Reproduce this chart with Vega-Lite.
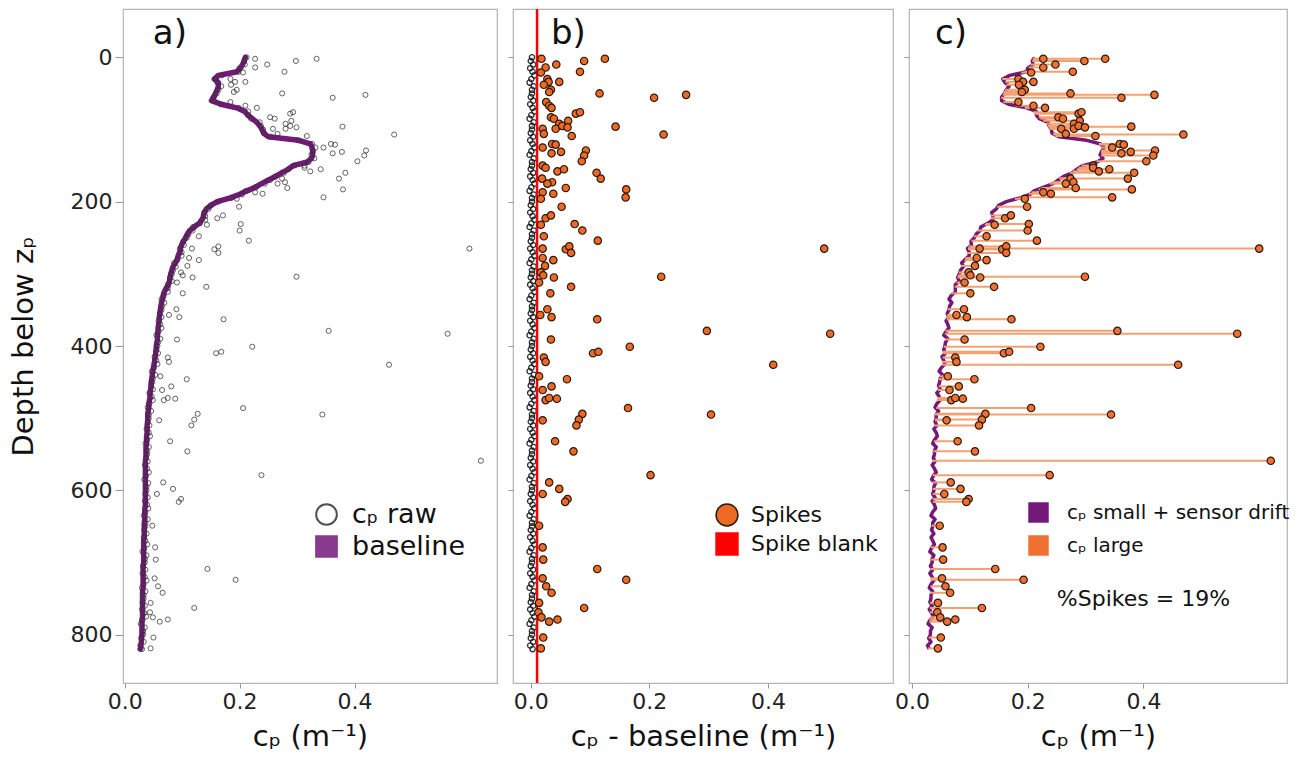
{
  "$schema": "https://vega.github.io/schema/vega-lite/v6.json",
  "padding": {"left": 8, "top": 7, "right": 10, "bottom": 2},
  "background": "white",
  "bounds": "flush",
  "config": {
    "view": {"stroke": "#b4b4b4", "strokeWidth": 1.2},
    "axis": {"grid": false, "domain": false, "tickColor": "#999", "tickWidth": 1, "labelFont": "DejaVu Sans", "labelFontSize": 22, "labelColor": "#222", "titleFont": "DejaVu Sans", "titleFontSize": 29, "titleFontWeight": "normal", "titleColor": "#111"},
    "legend": {"labelFont": "DejaVu Sans", "labelColor": "#111", "labelLimit": 300, "padding": 0}
  },
  "datasets": {
    "p": [
      {"z":0,"b":0.21,"d":0.002,"c":0.212},{"z":5,"b":0.208,"d":0,"c":0.208},{"z":10,"b":0.205,"d":0.004,"c":0.209},{"z":15,"b":0.201,"d":-0.001,"c":0.2},{"z":20,"b":0.195,"d":0.003,"c":0.198},
      {"z":25,"b":0.163,"d":0.006,"c":0.169},{"z":30,"b":0.156,"d":0.001,"c":0.157},{"z":35,"b":0.163,"d":-0.002,"c":0.161},{"z":40,"b":0.163,"d":0.005,"c":0.168},{"z":45,"b":0.161,"d":0.002,"c":0.163},
      {"z":50,"b":0.158,"d":0.002,"c":0.16},{"z":55,"b":0.155,"d":0,"c":0.155},{"z":60,"b":0.151,"d":0.004,"c":0.155},{"z":65,"b":0.168,"d":-0.001,"c":0.167},{"z":70,"b":0.195,"d":0.003,"c":0.198},
      {"z":75,"b":0.209,"d":0.006,"c":0.215},{"z":80,"b":0.214,"d":0.001,"c":0.215},{"z":85,"b":0.222,"d":-0.002,"c":0.22},{"z":90,"b":0.23,"d":0.005,"c":0.235},{"z":95,"b":0.235,"d":0.002,"c":0.237},
      {"z":100,"b":0.239,"d":0.002,"c":0.241},{"z":105,"b":0.242,"d":0,"c":0.242},{"z":110,"b":0.25,"d":0.004,"c":0.254},{"z":115,"b":0.303,"d":-0.001,"c":0.302},{"z":120,"b":0.323,"d":0.003,"c":0.326},
      {"z":125,"b":0.326,"d":0.006,"c":0.332},{"z":130,"b":0.327,"d":0.001,"c":0.328},{"z":135,"b":0.327,"d":-0.002,"c":0.325},{"z":140,"b":0.325,"d":0.005,"c":0.33},{"z":145,"b":0.318,"d":0.002,"c":0.32},
      {"z":150,"b":0.293,"d":0.002,"c":0.295},{"z":155,"b":0.285,"d":0,"c":0.285},{"z":160,"b":0.273,"d":0.004,"c":0.277},{"z":165,"b":0.263,"d":-0.001,"c":0.262},{"z":170,"b":0.25,"d":0.003,"c":0.253},
      {"z":175,"b":0.238,"d":0.006,"c":0.244},{"z":180,"b":0.227,"d":0.001,"c":0.228},{"z":185,"b":0.213,"d":-0.002,"c":0.211},{"z":190,"b":0.199,"d":0.005,"c":0.204},{"z":195,"b":0.183,"d":0.002,"c":0.185},
      {"z":200,"b":0.161,"d":0.002,"c":0.163},{"z":205,"b":0.15,"d":0,"c":0.15},{"z":210,"b":0.142,"d":0.004,"c":0.146},{"z":215,"b":0.139,"d":-0.001,"c":0.138},{"z":220,"b":0.137,"d":0.003,"c":0.14},
      {"z":225,"b":0.134,"d":0.006,"c":0.14},{"z":230,"b":0.13,"d":0.001,"c":0.131},{"z":235,"b":0.121,"d":-0.002,"c":0.119},{"z":240,"b":0.113,"d":0.005,"c":0.118},{"z":245,"b":0.109,"d":0.002,"c":0.111},
      {"z":250,"b":0.106,"d":0.002,"c":0.108},{"z":255,"b":0.102,"d":0,"c":0.102},{"z":260,"b":0.099,"d":0.004,"c":0.103},{"z":265,"b":0.097,"d":-0.001,"c":0.096},{"z":270,"b":0.096,"d":0.003,"c":0.099},
      {"z":275,"b":0.093,"d":0.006,"c":0.099},{"z":280,"b":0.091,"d":0.001,"c":0.092},{"z":285,"b":0.088,"d":-0.002,"c":0.086},{"z":290,"b":0.084,"d":0.005,"c":0.089},{"z":295,"b":0.082,"d":0.002,"c":0.084},
      {"z":300,"b":0.08,"d":0.002,"c":0.082},{"z":305,"b":0.079,"d":0,"c":0.079},{"z":310,"b":0.078,"d":0.004,"c":0.082},{"z":315,"b":0.076,"d":-0.001,"c":0.075},{"z":320,"b":0.072,"d":0.003,"c":0.075},
      {"z":325,"b":0.069,"d":0.006,"c":0.075},{"z":330,"b":0.067,"d":0.001,"c":0.068},{"z":335,"b":0.066,"d":-0.002,"c":0.064},{"z":340,"b":0.064,"d":0.005,"c":0.069},{"z":345,"b":0.063,"d":0.002,"c":0.065},
      {"z":350,"b":0.062,"d":0.002,"c":0.064},{"z":355,"b":0.061,"d":0,"c":0.061},{"z":360,"b":0.06,"d":0.004,"c":0.064},{"z":365,"b":0.06,"d":-0.001,"c":0.059},{"z":370,"b":0.059,"d":0.003,"c":0.062},
      {"z":375,"b":0.058,"d":0.006,"c":0.064},{"z":380,"b":0.058,"d":0.001,"c":0.059},{"z":385,"b":0.057,"d":-0.002,"c":0.055},{"z":390,"b":0.057,"d":0.005,"c":0.062},{"z":395,"b":0.056,"d":0.002,"c":0.058},
      {"z":400,"b":0.055,"d":0.002,"c":0.057},{"z":405,"b":0.055,"d":0,"c":0.055},{"z":410,"b":0.054,"d":0.004,"c":0.058},{"z":415,"b":0.053,"d":-0.001,"c":0.052},{"z":420,"b":0.052,"d":0.003,"c":0.055},
      {"z":425,"b":0.051,"d":0.006,"c":0.057},{"z":430,"b":0.05,"d":0.001,"c":0.051},{"z":435,"b":0.049,"d":-0.002,"c":0.047},{"z":440,"b":0.048,"d":0.005,"c":0.053},{"z":445,"b":0.047,"d":0.002,"c":0.049},
      {"z":450,"b":0.046,"d":0.002,"c":0.048},{"z":455,"b":0.046,"d":0,"c":0.046},{"z":460,"b":0.045,"d":0.004,"c":0.049},{"z":465,"b":0.044,"d":-0.001,"c":0.043},{"z":470,"b":0.044,"d":0.003,"c":0.047},
      {"z":475,"b":0.043,"d":0.006,"c":0.049},{"z":480,"b":0.042,"d":0.001,"c":0.043},{"z":485,"b":0.042,"d":-0.002,"c":0.04},{"z":490,"b":0.041,"d":0.005,"c":0.046},{"z":495,"b":0.04,"d":0.002,"c":0.042},
      {"z":500,"b":0.04,"d":0.002,"c":0.042},{"z":505,"b":0.04,"d":0,"c":0.04},{"z":510,"b":0.039,"d":0.004,"c":0.043},{"z":515,"b":0.039,"d":-0.001,"c":0.038},{"z":520,"b":0.039,"d":0.003,"c":0.042},
      {"z":525,"b":0.038,"d":0.006,"c":0.044},{"z":530,"b":0.038,"d":0.001,"c":0.039},{"z":535,"b":0.038,"d":-0.002,"c":0.036},{"z":540,"b":0.037,"d":0.005,"c":0.042},{"z":545,"b":0.037,"d":0.002,"c":0.039},
      {"z":550,"b":0.037,"d":0.002,"c":0.039},{"z":555,"b":0.037,"d":0,"c":0.037},{"z":560,"b":0.036,"d":0.004,"c":0.04},{"z":565,"b":0.036,"d":-0.001,"c":0.035},{"z":570,"b":0.036,"d":0.003,"c":0.039},
      {"z":575,"b":0.036,"d":0.006,"c":0.042},{"z":580,"b":0.036,"d":0.001,"c":0.037},{"z":585,"b":0.036,"d":-0.002,"c":0.034},{"z":590,"b":0.036,"d":0.005,"c":0.041},{"z":595,"b":0.036,"d":0.002,"c":0.038},
      {"z":600,"b":0.036,"d":0.002,"c":0.038},{"z":605,"b":0.036,"d":0,"c":0.036},{"z":610,"b":0.036,"d":0.004,"c":0.04},{"z":615,"b":0.036,"d":-0.001,"c":0.035},{"z":620,"b":0.036,"d":0.003,"c":0.039},
      {"z":625,"b":0.035,"d":0.006,"c":0.041},{"z":630,"b":0.035,"d":0.001,"c":0.036},{"z":635,"b":0.035,"d":-0.002,"c":0.033},{"z":640,"b":0.035,"d":0.005,"c":0.04},{"z":645,"b":0.034,"d":0.002,"c":0.036},
      {"z":650,"b":0.034,"d":0.002,"c":0.036},{"z":655,"b":0.034,"d":0,"c":0.034},{"z":660,"b":0.034,"d":0.004,"c":0.038},{"z":665,"b":0.034,"d":-0.001,"c":0.033},{"z":670,"b":0.033,"d":0.003,"c":0.036},
      {"z":675,"b":0.033,"d":0.006,"c":0.039},{"z":680,"b":0.033,"d":0.001,"c":0.034},{"z":685,"b":0.033,"d":-0.002,"c":0.031},{"z":690,"b":0.033,"d":0.005,"c":0.038},{"z":695,"b":0.033,"d":0.002,"c":0.035},
      {"z":700,"b":0.033,"d":0.002,"c":0.035},{"z":705,"b":0.032,"d":0,"c":0.032},{"z":710,"b":0.032,"d":0.004,"c":0.036},{"z":715,"b":0.032,"d":-0.001,"c":0.031},{"z":720,"b":0.032,"d":0.003,"c":0.035},
      {"z":725,"b":0.032,"d":0.006,"c":0.038},{"z":730,"b":0.032,"d":0.001,"c":0.033},{"z":735,"b":0.032,"d":-0.002,"c":0.03},{"z":740,"b":0.031,"d":0.005,"c":0.036},{"z":745,"b":0.031,"d":0.002,"c":0.033},
      {"z":750,"b":0.031,"d":0.002,"c":0.033},{"z":755,"b":0.031,"d":0,"c":0.031},{"z":760,"b":0.031,"d":0.004,"c":0.035},{"z":765,"b":0.031,"d":-0.001,"c":0.03},{"z":770,"b":0.031,"d":0.003,"c":0.034},
      {"z":775,"b":0.031,"d":0.006,"c":0.037},{"z":780,"b":0.03,"d":0.001,"c":0.031},{"z":785,"b":0.03,"d":-0.002,"c":0.028},{"z":790,"b":0.03,"d":0.005,"c":0.035},{"z":795,"b":0.03,"d":0.002,"c":0.032},
      {"z":800,"b":0.03,"d":0.002,"c":0.032},{"z":805,"b":0.029,"d":0,"c":0.029},{"z":810,"b":0.029,"d":0.004,"c":0.033},{"z":815,"b":0.028,"d":-0.001,"c":0.027},{"z":820,"b":0.027,"d":0.003,"c":0.03},
      {"z":2,"b":0.209,"d":0.018,"c":0.227,"s":1},{"z":14,"b":0.202,"d":0.025,"c":0.227,"s":1},{"z":10,"b":0.205,"d":0.043,"c":0.248,"s":1},{"z":5,"b":0.208,"d":0.09,"c":0.298,"s":1},{"z":2,"b":0.209,"d":0.125,"c":0.334,"s":1},
      {"z":20,"b":0.195,"d":0.083,"c":0.278,"s":1},{"z":21,"b":0.189,"d":0.017,"c":0.206,"s":1},{"z":30,"b":0.156,"d":0.028,"c":0.184,"s":1},{"z":34,"b":0.162,"d":0.03,"c":0.192,"s":1},{"z":34,"b":0.162,"d":0.048,"c":0.21,"s":1},
      {"z":38,"b":0.163,"d":0.022,"c":0.185,"s":1},{"z":45,"b":0.161,"d":0.034,"c":0.195,"s":1},{"z":48,"b":0.159,"d":0.031,"c":0.19,"s":1},{"z":50,"b":0.158,"d":0.116,"c":0.274,"s":1},{"z":56,"b":0.154,"d":0.208,"c":0.362,"s":1},
      {"z":52,"b":0.157,"d":0.262,"c":0.419,"s":1},{"z":62,"b":0.158,"d":0.026,"c":0.184,"s":1},{"z":67,"b":0.179,"d":0.031,"c":0.21,"s":1},{"z":70,"b":0.195,"d":0.035,"c":0.23,"s":1},{"z":78,"b":0.212,"d":0.076,"c":0.288,"s":1},
      {"z":76,"b":0.21,"d":0.083,"c":0.293,"s":1},{"z":83,"b":0.219,"d":0.034,"c":0.253,"s":1},{"z":85,"b":0.222,"d":0.039,"c":0.261,"s":1},{"z":88,"b":0.227,"d":0.063,"c":0.29,"s":1},{"z":92,"b":0.232,"d":0.048,"c":0.28,"s":1},
      {"z":99,"b":0.238,"d":0.042,"c":0.28,"s":1},{"z":95,"b":0.235,"d":0.053,"c":0.288,"s":1},{"z":97,"b":0.237,"d":0.062,"c":0.299,"s":1},{"z":96,"b":0.236,"d":0.143,"c":0.379,"s":1},{"z":107,"b":0.245,"d":0.224,"c":0.469,"s":1},
      {"z":109,"b":0.248,"d":0.069,"c":0.317,"s":1},{"z":99,"b":0.238,"d":0.02,"c":0.258,"s":1},{"z":106,"b":0.244,"d":0.022,"c":0.266,"s":1},{"z":120,"b":0.323,"d":0.036,"c":0.359,"s":1},{"z":121,"b":0.324,"d":0.042,"c":0.366,"s":1},
      {"z":125,"b":0.326,"d":0.02,"c":0.346,"s":1},{"z":129,"b":0.327,"d":0.093,"c":0.42,"s":1},{"z":136,"b":0.327,"d":0.09,"c":0.417,"s":1},{"z":144,"b":0.319,"d":0.086,"c":0.405,"s":1},{"z":131,"b":0.327,"d":0.051,"c":0.378,"s":1},
      {"z":133,"b":0.327,"d":0.035,"c":0.362,"s":1},{"z":150,"b":0.293,"d":0.02,"c":0.313,"s":1},{"z":153,"b":0.288,"d":0.025,"c":0.313,"s":1},{"z":158,"b":0.278,"d":0.045,"c":0.323,"s":1},{"z":155,"b":0.285,"d":0.056,"c":0.341,"s":1},
      {"z":160,"b":0.273,"d":0.111,"c":0.384,"s":1},{"z":168,"b":0.255,"d":0.118,"c":0.373,"s":1},{"z":168,"b":0.255,"d":0.019,"c":0.274,"s":1},{"z":173,"b":0.243,"d":0.036,"c":0.279,"s":1},{"z":175,"b":0.238,"d":0.028,"c":0.266,"s":1},
      {"z":181,"b":0.224,"d":0.059,"c":0.283,"s":1},{"z":187,"b":0.207,"d":0.02,"c":0.227,"s":1},{"z":189,"b":0.202,"d":0.038,"c":0.24,"s":1},{"z":183,"b":0.219,"d":0.161,"c":0.38,"s":1},{"z":194,"b":0.186,"d":0.16,"c":0.346,"s":1},
      {"z":196,"b":0.178,"d":0.017,"c":0.195,"s":1},{"z":207,"b":0.147,"d":0.052,"c":0.199,"s":1},{"z":223,"b":0.136,"d":0.025,"c":0.161,"s":1},{"z":219,"b":0.137,"d":0.034,"c":0.171,"s":1},{"z":232,"b":0.126,"d":0.017,"c":0.143,"s":1},
      {"z":231,"b":0.128,"d":0.074,"c":0.202,"s":1},{"z":240,"b":0.113,"d":0.087,"c":0.2,"s":1},{"z":254,"b":0.103,"d":0.113,"c":0.216,"s":1},{"z":248,"b":0.107,"d":0.022,"c":0.129,"s":1},{"z":265,"b":0.097,"d":0.02,"c":0.117,"s":1},
      {"z":266,"b":0.097,"d":0.059,"c":0.156,"s":1},{"z":262,"b":0.098,"d":0.065,"c":0.163,"s":1},{"z":271,"b":0.095,"d":0.068,"c":0.163,"s":1},{"z":265,"b":0.097,"d":0.495,"c":0.6,"s":1},{"z":278,"b":0.092,"d":0.02,"c":0.112,"s":1},
      {"z":281,"b":0.091,"d":0.038,"c":0.129,"s":1},{"z":289,"b":0.085,"d":0.024,"c":0.109,"s":1},{"z":298,"b":0.081,"d":0.017,"c":0.098,"s":1},{"z":302,"b":0.08,"d":0.021,"c":0.101,"s":1},{"z":305,"b":0.079,"d":0.039,"c":0.118,"s":1},
      {"z":312,"b":0.077,"d":0.014,"c":0.091,"s":1},{"z":304,"b":0.079,"d":0.22,"c":0.299,"s":1},{"z":318,"b":0.074,"d":0.068,"c":0.142,"s":1},{"z":327,"b":0.068,"d":0.033,"c":0.101,"s":1},{"z":357,"b":0.061,"d":0.016,"c":0.077,"s":1},
      {"z":349,"b":0.062,"d":0.028,"c":0.09,"s":1},{"z":360,"b":0.06,"d":0.035,"c":0.095,"s":1},{"z":363,"b":0.06,"d":0.112,"c":0.172,"s":1},{"z":379,"b":0.058,"d":0.297,"c":0.355,"s":1},{"z":383,"b":0.057,"d":0.505,"c":0.562,"s":1},
      {"z":391,"b":0.057,"d":0.034,"c":0.091,"s":1},{"z":401,"b":0.055,"d":0.167,"c":0.222,"s":1},{"z":410,"b":0.054,"d":0.105,"c":0.159,"s":1},{"z":408,"b":0.054,"d":0.114,"c":0.168,"s":1},{"z":416,"b":0.053,"d":0.022,"c":0.075,"s":1},
      {"z":422,"b":0.052,"d":0.025,"c":0.077,"s":1},{"z":426,"b":0.051,"d":0.409,"c":0.46,"s":1},{"z":442,"b":0.048,"d":0.014,"c":0.062,"s":1},{"z":446,"b":0.047,"d":0.061,"c":0.108,"s":1},{"z":461,"b":0.045,"d":0.02,"c":0.065,"s":1},
      {"z":456,"b":0.046,"d":0.035,"c":0.081,"s":1},{"z":475,"b":0.043,"d":0.025,"c":0.068,"s":1},{"z":472,"b":0.044,"d":0.031,"c":0.075,"s":1},{"z":473,"b":0.044,"d":0.044,"c":0.088,"s":1},{"z":486,"b":0.042,"d":0.164,"c":0.206,"s":1},
      {"z":495,"b":0.04,"d":0.304,"c":0.344,"s":1},{"z":494,"b":0.04,"d":0.087,"c":0.127,"s":1},{"z":502,"b":0.04,"d":0.081,"c":0.121,"s":1},{"z":510,"b":0.039,"d":0.077,"c":0.116,"s":1},{"z":503,"b":0.04,"d":0.02,"c":0.06,"s":1},
      {"z":532,"b":0.038,"d":0.041,"c":0.079,"s":1},{"z":546,"b":0.037,"d":0.072,"c":0.109,"s":1},{"z":579,"b":0.036,"d":0.202,"c":0.238,"s":1},{"z":589,"b":0.036,"d":0.031,"c":0.067,"s":1},{"z":598,"b":0.036,"d":0.048,"c":0.084,"s":1},
      {"z":605,"b":0.036,"d":0.02,"c":0.056,"s":1},{"z":612,"b":0.036,"d":0.062,"c":0.098,"s":1},{"z":616,"b":0.036,"d":0.058,"c":0.094,"s":1},{"z":559,"b":0.036,"c":0.62,"s":1},{"z":649,"b":0.034,"d":0.014,"c":0.048,"s":1},
      {"z":679,"b":0.033,"d":0.02,"c":0.053,"s":1},{"z":696,"b":0.033,"d":0.021,"c":0.054,"s":1},{"z":709,"b":0.032,"d":0.112,"c":0.144,"s":1},{"z":724,"b":0.032,"d":0.161,"c":0.193,"s":1},{"z":722,"b":0.032,"d":0.02,"c":0.052,"s":1},
      {"z":733,"b":0.032,"d":0.026,"c":0.058,"s":1},{"z":742,"b":0.031,"d":0.035,"c":0.066,"s":1},{"z":763,"b":0.031,"d":0.09,"c":0.121,"s":1},{"z":756,"b":0.031,"d":0.014,"c":0.045,"s":1},{"z":769,"b":0.031,"d":0.013,"c":0.044,"s":1},
      {"z":776,"b":0.031,"d":0.018,"c":0.049,"s":1},{"z":782,"b":0.03,"d":0.031,"c":0.061,"s":1},{"z":779,"b":0.03,"d":0.045,"c":0.075,"s":1},{"z":804,"b":0.029,"d":0.021,"c":0.05,"s":1},{"z":819,"b":0.028,"d":0.017,"c":0.045,"s":1}
    ]
  },
  "spacing": 16,
  "resolve": {"scale": {"fill": "independent", "stroke": "independent", "shape": "independent", "color": "independent"}},
  "hconcat": [
    {
      "width": 374, "height": 674,
      "data": {"name": "p"},
      "encoding": {
        "y": {"field": "z", "type": "quantitative", "scale": {"domain": [-67, 867], "reverse": true, "nice": false, "zero": false},
              "axis": {"title": "Depth below zₚ", "values": [0, 200, 400, 600, 800], "tickSize": 8, "labelPadding": 3, "titlePadding": 32}}
      },
      "layer": [
        {"mark": {"type": "line", "stroke": "#74197a", "strokeWidth": 5.5, "strokeJoin": "round", "strokeCap": "round"},
         "encoding": {"x": {"field": "b", "type": "quantitative", "scale": {"domain": [-0.003, 0.648], "nice": false, "zero": false}, "title": "cₚ (m⁻¹)", "axis": {"values": [0, 0.2, 0.4], "format": ".1f", "tickSize": 5, "labelPadding": 3, "titlePadding": 10}},
                      "order": {"field": "z", "type": "quantitative"}}},
        {"mark": {"type": "point", "size": 26, "strokeWidth": 0.9, "opacity": 0.85},
         "encoding": {"x": {"field": "c", "type": "quantitative", "title": "cₚ (m⁻¹)"},
           "shape": {"datum": "cₚ raw", "type": "nominal", "scale": {"domain": ["cₚ raw", "baseline"], "range": ["circle", "square"]},
                     "legend": {"orient": "none", "legendX": 190, "legendY": 492, "title": null, "labelFontSize": 27, "symbolSize": 430, "symbolStrokeWidth": 2, "rowPadding": 3, "labelOffset": 12}},
           "fill": {"datum": "cₚ raw", "type": "nominal", "scale": {"domain": ["cₚ raw", "baseline"], "range": ["transparent", "#74197a"]},
                     "legend": {"orient": "none", "legendX": 190, "legendY": 492, "title": null, "labelFontSize": 27, "symbolSize": 430, "symbolStrokeWidth": 2, "rowPadding": 3, "labelOffset": 12}},
           "stroke": {"datum": "cₚ raw", "type": "nominal", "scale": {"domain": ["cₚ raw", "baseline"], "range": ["#333333", "#74197a"]},
                     "legend": {"orient": "none", "legendX": 190, "legendY": 492, "title": null, "labelFontSize": 27, "symbolSize": 430, "symbolStrokeWidth": 2, "rowPadding": 3, "labelOffset": 12}}
         }},
        {"transform": [{"filter": "datum.z == 0 && !datum.s"}],
         "mark": {"type": "text", "text": "a)", "fontSize": 34, "font": "DejaVu Sans", "align": "left", "baseline": "middle", "color": "#111"},
         "encoding": {"x": {"datum": 0.049, "type": "quantitative", "title": "cₚ (m⁻¹)"}, "y": {"datum": -32, "type": "quantitative"}}}
      ]
    },
    {
      "width": 380, "height": 674,
      "data": {"name": "p"},
      "encoding": {
        "y": {"field": "z", "type": "quantitative", "scale": {"domain": [-67, 867], "reverse": true, "nice": false, "zero": false},
              "axis": {"title": null, "labels": false, "values": [0, 200, 400, 600, 800], "tickSize": 5}}
      },
      "layer": [
        {"transform": [{"filter": "!datum.s"}],
         "mark": {"type": "point", "size": 28, "strokeWidth": 1.3, "color": "#1a1a1a", "opacity": 0.9},
         "encoding": {"x": {"field": "d", "type": "quantitative", "scale": {"domain": [-0.03, 0.611], "nice": false, "zero": false}, "title": "cₚ - baseline (m⁻¹)", "axis": {"values": [0, 0.2, 0.4], "format": ".1f", "tickSize": 5, "labelPadding": 3, "titlePadding": 10}}}},
        {"transform": [{"filter": "datum.z == 0 && !datum.s"}],
         "mark": {"type": "rule", "color": "#ff0000", "strokeWidth": 2.5},
         "encoding": {"x": {"datum": 0.0106, "type": "quantitative", "title": "cₚ - baseline (m⁻¹)"}, "y": {"value": 0}, "y2": {"value": 674}}},
        {"transform": [{"filter": "datum.s == 1"}],
         "mark": {"type": "point", "size": 55, "strokeWidth": 1.2, "filled": true, "opacity": 1},
         "encoding": {"x": {"field": "d", "type": "quantitative", "title": "cₚ - baseline (m⁻¹)"},
           "shape": {"datum": "Spikes", "type": "nominal", "scale": {"domain": ["Spikes", "Spike blank"], "range": ["circle", "square"]},
                     "legend": {"orient": "none", "legendX": 202, "legendY": 494, "title": null, "labelFontSize": 22, "symbolSize": 480, "symbolStrokeWidth": 1.5, "rowPadding": 1, "labelOffset": 12}},
           "fill": {"datum": "Spikes", "type": "nominal", "scale": {"domain": ["Spikes", "Spike blank"], "range": ["#ee6a24", "#ff0000"]},
                     "legend": {"orient": "none", "legendX": 202, "legendY": 494, "title": null, "labelFontSize": 22, "symbolSize": 480, "symbolStrokeWidth": 1.5, "rowPadding": 1, "labelOffset": 12}},
           "stroke": {"datum": "Spikes", "type": "nominal", "scale": {"domain": ["Spikes", "Spike blank"], "range": ["#2b1a10", "#ff0000"]},
                     "legend": {"orient": "none", "legendX": 202, "legendY": 494, "title": null, "labelFontSize": 22, "symbolSize": 480, "symbolStrokeWidth": 1.5, "rowPadding": 1, "labelOffset": 12}}
         }},
        {"transform": [{"filter": "datum.z == 0 && !datum.s"}],
         "mark": {"type": "text", "text": "b)", "fontSize": 34, "font": "DejaVu Sans", "align": "left", "baseline": "middle", "color": "#111"},
         "encoding": {"x": {"datum": 0.034, "type": "quantitative", "title": "cₚ - baseline (m⁻¹)"}, "y": {"datum": -32, "type": "quantitative"}}}
      ]
    },
    {
      "width": 378, "height": 674,
      "data": {"name": "p"},
      "encoding": {
        "y": {"field": "z", "type": "quantitative", "scale": {"domain": [-67, 867], "reverse": true, "nice": false, "zero": false},
              "axis": {"title": null, "labels": false, "values": [0, 200, 400, 600, 800], "tickSize": 5}}
      },
      "layer": [
        {"transform": [{"filter": "!datum.s"}],
         "mark": {"type": "line", "stroke": "#74197a", "strokeWidth": 3.5, "strokeJoin": "round"},
         "encoding": {"x": {"field": "c", "type": "quantitative", "scale": {"domain": [-0.005, 0.648], "nice": false, "zero": false}, "title": "cₚ (m⁻¹)", "axis": {"values": [0, 0.2, 0.4], "format": ".1f", "tickSize": 5, "labelPadding": 3, "titlePadding": 10}},
                      "order": {"field": "z", "type": "quantitative"}}},
        {"transform": [{"filter": "datum.s == 1"}],
         "mark": {"type": "rule", "stroke": "#f5a070", "strokeWidth": 2},
         "encoding": {"x": {"field": "b", "type": "quantitative", "title": "cₚ (m⁻¹)"}, "x2": {"field": "c"}}},
        {"transform": [{"filter": "datum.s == 1"}],
         "mark": {"type": "point", "size": 55, "strokeWidth": 1.2, "filled": true, "stroke": "#2b1a10", "opacity": 1},
         "encoding": {"x": {"field": "c", "type": "quantitative", "title": "cₚ (m⁻¹)"},
           "fill": {"datum": "cₚ large", "type": "nominal", "scale": {"domain": ["cₚ small + sensor drift", "cₚ large"], "range": ["#74197a", "#ef7030"]},
                    "legend": {"orient": "none", "legendX": 119, "legendY": 493, "title": null, "labelFontSize": 20, "symbolSize": 420, "symbolType": "square", "symbolStrokeWidth": 0, "rowPadding": 12, "labelOffset": 18}}
         }},
        {"transform": [{"filter": "datum.z == 0 && !datum.s"}],
         "mark": {"type": "text", "text": "%Spikes = 19%", "fontSize": 22, "font": "DejaVu Sans", "align": "center", "baseline": "middle", "color": "#111"},
         "encoding": {"x": {"datum": 0.4, "type": "quantitative", "title": "cₚ (m⁻¹)"}, "y": {"datum": 751, "type": "quantitative"}}},
        {"transform": [{"filter": "datum.z == 0 && !datum.s"}],
         "mark": {"type": "text", "text": "c)", "fontSize": 34, "font": "DejaVu Sans", "align": "left", "baseline": "middle", "color": "#111"},
         "encoding": {"x": {"datum": 0.04, "type": "quantitative", "title": "cₚ (m⁻¹)"}, "y": {"datum": -32, "type": "quantitative"}}}
      ]
    }
  ]
}
